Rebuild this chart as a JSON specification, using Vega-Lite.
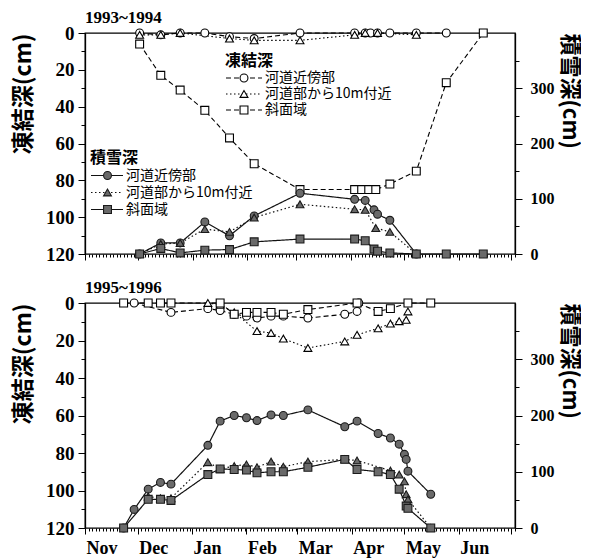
{
  "$schema": "https://vega.github.io/schema/vega-lite/v6.json",
  "background": "white",
  "padding": {"left": 11, "top": 8, "right": 0, "bottom": 0},
  "spacing": 13,
  "config": {
    "view": {"stroke": "black", "strokeWidth": 1.3},
    "axis": {"labelFont": "Liberation Serif", "labelFontWeight": "bold", "labelColor": "black", "tickColor": "black", "domainColor": "black", "domainWidth": 1.3, "tickWidth": 1, "grid": false, "titleFont": "Noto Sans CJK JP", "titleFontWeight": "bold", "titleColor": "black", "titleFontSize": 23},
    "legend": {"labelFont": "Noto Sans CJK JP", "labelFontSize": 14, "labelColor": "black", "titleFont": "Noto Sans CJK JP", "titleFontSize": 16, "titleFontWeight": "bold", "titleColor": "black", "padding": 0, "titlePadding": 2, "rowPadding": 2},
    "title": {"font": "Liberation Serif", "fontSize": 17, "fontWeight": "bold", "color": "black", "anchor": "start", "frame": "group", "offset": -3}
  },
  "datasets": {
    "f93": [
      {"date": "1993-12-02", "site": "河道近傍部", "depth": 0},
      {"date": "1993-12-14", "site": "河道近傍部", "depth": 1},
      {"date": "1993-12-25", "site": "河道近傍部", "depth": 0},
      {"date": "1994-01-08", "site": "河道近傍部", "depth": 0},
      {"date": "1994-01-22", "site": "河道近傍部", "depth": 2},
      {"date": "1994-02-05", "site": "河道近傍部", "depth": 3},
      {"date": "1994-03-03", "site": "河道近傍部", "depth": 0},
      {"date": "1994-04-03", "site": "河道近傍部", "depth": 0},
      {"date": "1994-04-09", "site": "河道近傍部", "depth": 0},
      {"date": "1994-04-12", "site": "河道近傍部", "depth": 0},
      {"date": "1994-04-16", "site": "河道近傍部", "depth": 0},
      {"date": "1994-04-23", "site": "河道近傍部", "depth": 0},
      {"date": "1994-05-08", "site": "河道近傍部", "depth": 0},
      {"date": "1994-05-25", "site": "河道近傍部", "depth": 0},
      {"date": "1993-12-02", "site": "河道部から10m付近", "depth": 1},
      {"date": "1993-12-14", "site": "河道部から10m付近", "depth": 1},
      {"date": "1993-12-25", "site": "河道部から10m付近", "depth": 0},
      {"date": "1994-01-22", "site": "河道部から10m付近", "depth": 3},
      {"date": "1994-02-05", "site": "河道部から10m付近", "depth": 4},
      {"date": "1994-03-03", "site": "河道部から10m付近", "depth": 4},
      {"date": "1994-04-03", "site": "河道部から10m付近", "depth": 1},
      {"date": "1994-04-09", "site": "河道部から10m付近", "depth": 0},
      {"date": "1994-04-16", "site": "河道部から10m付近", "depth": 0},
      {"date": "1994-05-08", "site": "河道部から10m付近", "depth": 1},
      {"date": "1993-12-02", "site": "斜面域", "depth": 6},
      {"date": "1993-12-14", "site": "斜面域", "depth": 23},
      {"date": "1993-12-25", "site": "斜面域", "depth": 31},
      {"date": "1994-01-08", "site": "斜面域", "depth": 42},
      {"date": "1994-01-22", "site": "斜面域", "depth": 57},
      {"date": "1994-02-05", "site": "斜面域", "depth": 71},
      {"date": "1994-03-03", "site": "斜面域", "depth": 85},
      {"date": "1994-04-03", "site": "斜面域", "depth": 85},
      {"date": "1994-04-07", "site": "斜面域", "depth": 85},
      {"date": "1994-04-11", "site": "斜面域", "depth": 85},
      {"date": "1994-04-15", "site": "斜面域", "depth": 85},
      {"date": "1994-04-23", "site": "斜面域", "depth": 82},
      {"date": "1994-05-08", "site": "斜面域", "depth": 75},
      {"date": "1994-05-25", "site": "斜面域", "depth": 27},
      {"date": "1994-06-15", "site": "斜面域", "depth": 0}
    ],
    "s93": [
      {"date": "1993-12-02", "site": "河道近傍部", "depth": 0},
      {"date": "1993-12-14", "site": "河道近傍部", "depth": 20},
      {"date": "1993-12-25", "site": "河道近傍部", "depth": 20},
      {"date": "1994-01-08", "site": "河道近傍部", "depth": 58},
      {"date": "1994-01-22", "site": "河道近傍部", "depth": 33},
      {"date": "1994-02-05", "site": "河道近傍部", "depth": 69},
      {"date": "1994-03-03", "site": "河道近傍部", "depth": 110},
      {"date": "1994-04-03", "site": "河道近傍部", "depth": 99},
      {"date": "1994-04-09", "site": "河道近傍部", "depth": 97},
      {"date": "1994-04-14", "site": "河道近傍部", "depth": 80},
      {"date": "1994-04-16", "site": "河道近傍部", "depth": 72},
      {"date": "1994-04-23", "site": "河道近傍部", "depth": 61},
      {"date": "1994-05-08", "site": "河道近傍部", "depth": 0},
      {"date": "1993-12-02", "site": "河道部から10m付近", "depth": 0},
      {"date": "1993-12-14", "site": "河道部から10m付近", "depth": 18},
      {"date": "1993-12-25", "site": "河道部から10m付近", "depth": 20},
      {"date": "1994-01-08", "site": "河道部から10m付近", "depth": 45},
      {"date": "1994-01-22", "site": "河道部から10m付近", "depth": 40},
      {"date": "1994-02-05", "site": "河道部から10m付近", "depth": 66},
      {"date": "1994-03-03", "site": "河道部から10m付近", "depth": 90},
      {"date": "1994-04-03", "site": "河道部から10m付近", "depth": 81},
      {"date": "1994-04-09", "site": "河道部から10m付近", "depth": 80},
      {"date": "1994-04-15", "site": "河道部から10m付近", "depth": 47},
      {"date": "1994-04-23", "site": "河道部から10m付近", "depth": 40},
      {"date": "1994-05-08", "site": "河道部から10m付近", "depth": 0},
      {"date": "1993-12-02", "site": "斜面域", "depth": 0},
      {"date": "1993-12-14", "site": "斜面域", "depth": 10},
      {"date": "1993-12-25", "site": "斜面域", "depth": 2},
      {"date": "1994-01-08", "site": "斜面域", "depth": 7},
      {"date": "1994-01-22", "site": "斜面域", "depth": 8},
      {"date": "1994-02-05", "site": "斜面域", "depth": 22},
      {"date": "1994-03-03", "site": "斜面域", "depth": 27},
      {"date": "1994-04-03", "site": "斜面域", "depth": 27},
      {"date": "1994-04-09", "site": "斜面域", "depth": 24},
      {"date": "1994-04-14", "site": "斜面域", "depth": 9},
      {"date": "1994-04-16", "site": "斜面域", "depth": 5},
      {"date": "1994-04-23", "site": "斜面域", "depth": 2},
      {"date": "1994-05-08", "site": "斜面域", "depth": 0},
      {"date": "1994-05-25", "site": "斜面域", "depth": 0},
      {"date": "1994-06-15", "site": "斜面域", "depth": 0}
    ],
    "f95": [
      {"date": "1995-11-29", "site": "河道近傍部", "depth": 0},
      {"date": "1995-12-20", "site": "河道近傍部", "depth": 5},
      {"date": "1996-01-10", "site": "河道近傍部", "depth": 3},
      {"date": "1996-01-17", "site": "河道近傍部", "depth": 4},
      {"date": "1996-01-25", "site": "河道近傍部", "depth": 6},
      {"date": "1996-02-01", "site": "河道近傍部", "depth": 7},
      {"date": "1996-02-07", "site": "河道近傍部", "depth": 8},
      {"date": "1996-02-15", "site": "河道近傍部", "depth": 7},
      {"date": "1996-02-22", "site": "河道近傍部", "depth": 7},
      {"date": "1996-03-07", "site": "河道近傍部", "depth": 8},
      {"date": "1996-03-28", "site": "河道近傍部", "depth": 6},
      {"date": "1996-04-04", "site": "河道近傍部", "depth": 4.5},
      {"date": "1996-04-05", "site": "河道近傍部", "depth": 0},
      {"date": "1996-01-10", "site": "河道部から10m付近", "depth": 0},
      {"date": "1996-01-17", "site": "河道部から10m付近", "depth": 1},
      {"date": "1996-01-25", "site": "河道部から10m付近", "depth": 5},
      {"date": "1996-02-07", "site": "河道部から10m付近", "depth": 15},
      {"date": "1996-02-15", "site": "河道部から10m付近", "depth": 16},
      {"date": "1996-02-22", "site": "河道部から10m付近", "depth": 19},
      {"date": "1996-03-07", "site": "河道部から10m付近", "depth": 24},
      {"date": "1996-03-28", "site": "河道部から10m付近", "depth": 20.5},
      {"date": "1996-04-04", "site": "河道部から10m付近", "depth": 17},
      {"date": "1996-04-16", "site": "河道部から10m付近", "depth": 13.5},
      {"date": "1996-04-23", "site": "河道部から10m付近", "depth": 11},
      {"date": "1996-04-28", "site": "河道部から10m付近", "depth": 9.7},
      {"date": "1996-05-02", "site": "河道部から10m付近", "depth": 9},
      {"date": "1996-05-03", "site": "河道部から10m付近", "depth": 4.5},
      {"date": "1995-11-23", "site": "斜面域", "depth": 0},
      {"date": "1995-12-07", "site": "斜面域", "depth": 0},
      {"date": "1995-12-14", "site": "斜面域", "depth": 0},
      {"date": "1995-12-20", "site": "斜面域", "depth": 0},
      {"date": "1996-01-17", "site": "斜面域", "depth": 0},
      {"date": "1996-01-25", "site": "斜面域", "depth": 6},
      {"date": "1996-02-01", "site": "斜面域", "depth": 5},
      {"date": "1996-02-07", "site": "斜面域", "depth": 5},
      {"date": "1996-02-15", "site": "斜面域", "depth": 5},
      {"date": "1996-02-22", "site": "斜面域", "depth": 6},
      {"date": "1996-03-07", "site": "斜面域", "depth": 3.5},
      {"date": "1996-04-04", "site": "斜面域", "depth": 0},
      {"date": "1996-04-16", "site": "斜面域", "depth": 4.5},
      {"date": "1996-04-23", "site": "斜面域", "depth": 3},
      {"date": "1996-05-03", "site": "斜面域", "depth": 0},
      {"date": "1996-05-16", "site": "斜面域", "depth": 0}
    ],
    "s95": [
      {"date": "1995-11-23", "site": "河道近傍部", "depth": 0},
      {"date": "1995-11-29", "site": "河道近傍部", "depth": 33},
      {"date": "1995-12-07", "site": "河道近傍部", "depth": 69},
      {"date": "1995-12-14", "site": "河道近傍部", "depth": 81},
      {"date": "1995-12-20", "site": "河道近傍部", "depth": 78},
      {"date": "1996-01-10", "site": "河道近傍部", "depth": 147},
      {"date": "1996-01-17", "site": "河道近傍部", "depth": 190},
      {"date": "1996-01-25", "site": "河道近傍部", "depth": 200},
      {"date": "1996-02-01", "site": "河道近傍部", "depth": 196},
      {"date": "1996-02-07", "site": "河道近傍部", "depth": 191},
      {"date": "1996-02-15", "site": "河道近傍部", "depth": 201},
      {"date": "1996-02-22", "site": "河道近傍部", "depth": 200},
      {"date": "1996-03-07", "site": "河道近傍部", "depth": 210},
      {"date": "1996-03-28", "site": "河道近傍部", "depth": 180},
      {"date": "1996-04-04", "site": "河道近傍部", "depth": 190},
      {"date": "1996-04-16", "site": "河道近傍部", "depth": 168},
      {"date": "1996-04-23", "site": "河道近傍部", "depth": 160},
      {"date": "1996-04-28", "site": "河道近傍部", "depth": 149},
      {"date": "1996-05-01", "site": "河道近傍部", "depth": 131},
      {"date": "1996-05-02", "site": "河道近傍部", "depth": 122},
      {"date": "1996-05-03", "site": "河道近傍部", "depth": 101},
      {"date": "1996-05-16", "site": "河道近傍部", "depth": 60},
      {"date": "1995-12-07", "site": "河道部から10m付近", "depth": 56},
      {"date": "1995-12-14", "site": "河道部から10m付近", "depth": 53},
      {"date": "1995-12-20", "site": "河道部から10m付近", "depth": 53},
      {"date": "1996-01-10", "site": "河道部から10m付近", "depth": 117},
      {"date": "1996-01-17", "site": "河道部から10m付近", "depth": 105},
      {"date": "1996-01-25", "site": "河道部から10m付近", "depth": 110},
      {"date": "1996-02-01", "site": "河道部から10m付近", "depth": 113},
      {"date": "1996-02-07", "site": "河道部から10m付近", "depth": 108},
      {"date": "1996-02-15", "site": "河道部から10m付近", "depth": 118},
      {"date": "1996-02-22", "site": "河道部から10m付近", "depth": 109},
      {"date": "1996-03-07", "site": "河道部から10m付近", "depth": 118},
      {"date": "1996-03-28", "site": "河道部から10m付近", "depth": 122},
      {"date": "1996-04-04", "site": "河道部から10m付近", "depth": 120},
      {"date": "1996-04-23", "site": "河道部から10m付近", "depth": 102},
      {"date": "1996-04-28", "site": "河道部から10m付近", "depth": 95},
      {"date": "1996-05-01", "site": "河道部から10m付近", "depth": 83},
      {"date": "1996-05-02", "site": "河道部から10m付近", "depth": 60},
      {"date": "1996-05-03", "site": "河道部から10m付近", "depth": 51},
      {"date": "1996-05-16", "site": "河道部から10m付近", "depth": 0},
      {"date": "1995-11-23", "site": "斜面域", "depth": 0},
      {"date": "1995-12-07", "site": "斜面域", "depth": 51},
      {"date": "1995-12-14", "site": "斜面域", "depth": 51},
      {"date": "1995-12-20", "site": "斜面域", "depth": 49},
      {"date": "1996-01-10", "site": "斜面域", "depth": 95},
      {"date": "1996-01-17", "site": "斜面域", "depth": 105},
      {"date": "1996-01-25", "site": "斜面域", "depth": 104},
      {"date": "1996-02-01", "site": "斜面域", "depth": 103},
      {"date": "1996-02-07", "site": "斜面域", "depth": 98},
      {"date": "1996-02-15", "site": "斜面域", "depth": 100},
      {"date": "1996-02-22", "site": "斜面域", "depth": 100},
      {"date": "1996-03-07", "site": "斜面域", "depth": 108},
      {"date": "1996-03-28", "site": "斜面域", "depth": 122},
      {"date": "1996-04-04", "site": "斜面域", "depth": 104},
      {"date": "1996-04-16", "site": "斜面域", "depth": 100},
      {"date": "1996-04-23", "site": "斜面域", "depth": 95},
      {"date": "1996-04-28", "site": "斜面域", "depth": 69},
      {"date": "1996-05-02", "site": "斜面域", "depth": 39},
      {"date": "1996-05-03", "site": "斜面域", "depth": 35},
      {"date": "1996-05-16", "site": "斜面域", "depth": 0}
    ]
  },
  "vconcat": [
    {
      "title": {"text": "1993~1994"},
      "width": 430,
      "height": 221,
      "resolve": {"scale": {"y": "independent", "shape": "independent", "strokeDash": "independent"}},
      "layer": [
        {
          "data": {"name": "f93"},
          "encoding": {
            "x": {"field": "date", "type": "temporal", "scale": {"type": "utc", "domain": [{"year": 1993, "month": 11, "date": 1, "utc": true}, {"year": 1994, "month": 7, "date": 3, "utc": true}]},
              "axis": {"title": null, "labels": false, "domain": false, "tickCount": {"interval": "day", "step": 2}, "tickSize": {"condition": {"test": "utcdate(datum.value) == 1", "value": 6}, "value": 3}}},
            "y": {"field": "depth", "type": "quantitative", "scale": {"domain": [0, 120], "reverse": true, "nice": false},
              "axis": {"title": "凍結深(cm)", "titleAnchor": "start", "titleAlign": "right", "titlePadding": 10, "values": [0, 10, 20, 30, 40, 50, 60, 70, 80, 90, 100, 110, 120], "labelExpr": "datum.value % 20 == 0 ? datum.label : ''", "labelFontSize": 19, "labelPadding": 4, "tickSize": {"condition": {"test": "datum.value % 20 == 0", "value": 7}, "value": 4}}}
          },
          "layer": [
            {"mark": {"type": "line", "stroke": "black", "strokeWidth": 1.1},
             "encoding": {"strokeDash": {"field": "site", "type": "nominal", "sort": null, "scale": {"range": [[5, 3], [1.5, 2.5], [5, 3]]},
               "legend": {"orient": "none", "legendX": 140, "legendY": 20, "title": "凍結深", "symbolType": "stroke", "symbolSize": 1296, "symbolStrokeWidth": 1.1, "symbolStrokeColor": "black", "labelColor": "transparent", "clipHeight": 14}}}},
            {"mark": {"type": "point", "filled": false, "color": "black", "fill": "white", "strokeWidth": 1.1, "size": 62, "opacity": 1},
             "encoding": {"shape": {"field": "site", "type": "nominal", "scale": {"domain": ["河道近傍部", "河道部から10m付近", "斜面域"], "range": ["circle", "triangle-up", "square"]},
               "legend": {"orient": "none", "legendX": 140, "legendY": 20, "title": "凍結深", "titleColor": "transparent", "symbolSize": 62, "symbolStrokeWidth": 1.1, "symbolOffset": 12, "labelOffset": 14, "clipHeight": 14,
                 "encode": {"symbols": {"fill": {"value": "white"}, "stroke": {"value": "black"}, "strokeWidth": {"value": 1.1}, "opacity": {"value": 1}}}}}}}
          ]
        },
        {
          "data": {"name": "s93"},
          "encoding": {
            "x": {"field": "date", "type": "temporal"},
            "y": {"field": "depth", "type": "quantitative", "scale": {"domain": [0, 400], "nice": false},
              "axis": {"orient": "right", "title": "積雪深(cm)", "titleFontSize": 22, "titleAnchor": "end", "titleAlign": "left", "titlePadding": 3, "values": [0, 50, 100, 150, 200, 250, 300, 350], "labelExpr": "datum.value % 100 == 0 ? datum.label : ''", "labelFontSize": 16, "labelPadding": 8, "tickSize": {"condition": {"test": "datum.value % 100 == 0", "value": 7}, "value": 4}}}
          },
          "layer": [
            {"mark": {"type": "line", "stroke": "#111", "strokeWidth": 1.2},
             "encoding": {"strokeDash": {"field": "site", "type": "nominal", "sort": null, "scale": {"range": [[1, 0], [1.5, 2.5], [1, 0]]},
               "legend": {"orient": "none", "legendX": 5, "legendY": 117, "title": "積雪深", "symbolType": "stroke", "symbolSize": 1024, "symbolStrokeWidth": 1.2, "symbolStrokeColor": "#111", "labelColor": "transparent", "clipHeight": 15}}}},
            {"mark": {"type": "point", "filled": true, "color": "#6a6a6a", "stroke": "#1a1a1a", "strokeWidth": 1.1, "size": 62, "opacity": 1},
             "encoding": {"shape": {"field": "site", "type": "nominal", "scale": {"domain": ["河道近傍部", "河道部から10m付近", "斜面域"], "range": ["circle", "triangle-up", "square"]},
               "legend": {"orient": "none", "legendX": 5, "legendY": 117, "title": "積雪深", "titleColor": "transparent", "symbolSize": 62, "symbolStrokeWidth": 1.1, "symbolOffset": 10.5, "labelOffset": 11.5, "clipHeight": 15,
                 "encode": {"symbols": {"fill": {"value": "#6a6a6a"}, "stroke": {"value": "#1a1a1a"}, "strokeWidth": {"value": 1.1}, "opacity": {"value": 1}}}}}}}
          ]
        }
      ]
    },
    {
      "title": {"text": "1995~1996"},
      "width": 430,
      "height": 225,
      "resolve": {"scale": {"y": "independent", "shape": "independent", "strokeDash": "independent"}},
      "layer": [
        {
          "data": {"name": "f95"},
          "encoding": {
            "x": {"field": "date", "type": "temporal", "scale": {"type": "utc", "domain": [{"year": 1995, "month": 11, "date": 1, "utc": true}, {"year": 1996, "month": 7, "date": 3, "utc": true}]},
              "axis": {"title": null, "domain": false, "tickCount": {"interval": "day", "step": 2}, "labelOverlap": false, "labelFlush": false, "labelBound": false, "labelAlign": "left", "labelOffset": 1, "labelPadding": 5, "labelFontSize": 18, "labelExpr": "utcdate(datum.value) == 1 && utcmonth(datum.value) != 6 ? utcFormat(datum.value, '%b') : ''", "tickSize": {"condition": {"test": "utcdate(datum.value) == 1", "value": 6}, "value": 3}}},
            "y": {"field": "depth", "type": "quantitative", "scale": {"domain": [0, 120], "reverse": true, "nice": false},
              "axis": {"title": "凍結深(cm)", "titleAnchor": "start", "titleAlign": "right", "titlePadding": 10, "values": [0, 10, 20, 30, 40, 50, 60, 70, 80, 90, 100, 110, 120], "labelExpr": "datum.value % 20 == 0 ? datum.label : ''", "labelFontSize": 19, "labelPadding": 4, "tickSize": {"condition": {"test": "datum.value % 20 == 0", "value": 7}, "value": 4}}}
          },
          "layer": [
            {"mark": {"type": "line", "stroke": "black", "strokeWidth": 1.1},
             "encoding": {"strokeDash": {"field": "site", "type": "nominal", "sort": null, "scale": {"range": [[5, 3], [1.5, 2.5], [5, 3]]}, "legend": null}}},
            {"mark": {"type": "point", "filled": false, "color": "black", "fill": "white", "strokeWidth": 1.1, "size": 62, "opacity": 1},
             "encoding": {"shape": {"field": "site", "type": "nominal", "scale": {"domain": ["河道近傍部", "河道部から10m付近", "斜面域"], "range": ["circle", "triangle-up", "square"]}, "legend": null}}}
          ]
        },
        {
          "data": {"name": "s95"},
          "encoding": {
            "x": {"field": "date", "type": "temporal"},
            "y": {"field": "depth", "type": "quantitative", "scale": {"domain": [0, 400], "nice": false},
              "axis": {"orient": "right", "title": "積雪深(cm)", "titleFontSize": 22, "titleAnchor": "end", "titleAlign": "left", "titlePadding": 3, "values": [0, 50, 100, 150, 200, 250, 300, 350], "labelExpr": "datum.value % 100 == 0 ? datum.label : ''", "labelFontSize": 16, "labelPadding": 8, "tickSize": {"condition": {"test": "datum.value % 100 == 0", "value": 7}, "value": 4}}}
          },
          "layer": [
            {"mark": {"type": "line", "stroke": "#111", "strokeWidth": 1.2},
             "encoding": {"strokeDash": {"field": "site", "type": "nominal", "sort": null, "scale": {"range": [[1, 0], [1.5, 2.5], [1, 0]]}, "legend": null}}},
            {"mark": {"type": "point", "filled": true, "color": "#6a6a6a", "stroke": "#1a1a1a", "strokeWidth": 1.1, "size": 62, "opacity": 1},
             "encoding": {"shape": {"field": "site", "type": "nominal", "scale": {"domain": ["河道近傍部", "河道部から10m付近", "斜面域"], "range": ["circle", "triangle-up", "square"]}, "legend": null}}}
          ]
        }
      ]
    }
  ]
}
